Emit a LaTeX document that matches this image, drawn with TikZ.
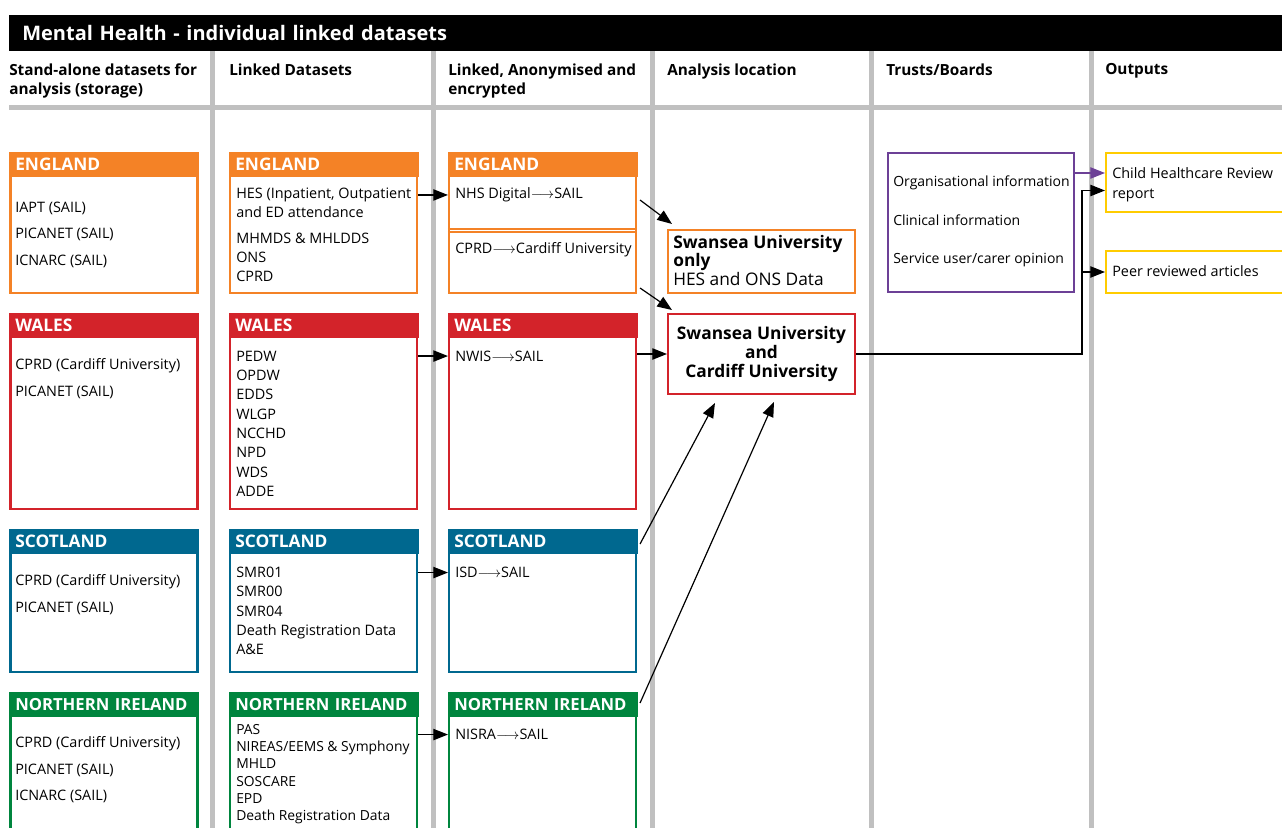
\documentclass[tikz,border=0pt]{standalone}
\usepackage{fontspec}
\setmainfont{Open Sans}
\usetikzlibrary{arrows.meta,positioning,calc}
\definecolor{engorange}{RGB}{244,130,38}
\definecolor{walred}{RGB}{211,35,42}
\definecolor{scoblue}{RGB}{0,104,143}
\definecolor{nigreen}{RGB}{0,133,62}
\definecolor{trustpurple}{RGB}{108,64,150}
\definecolor{outyellow}{RGB}{255,204,0}
\definecolor{sepgray}{RGB}{192,192,192}
\newcommand{\lto}{\ensuremath{\mathord{\longrightarrow}}}

\begin{document}
\begin{tikzpicture}[
  x=0.75pt, y=-0.75pt,
  >={Triangle[length=11pt,width=8.5pt]},
  box/.style={draw=#1, line width=1.8pt, minimum width=140pt, inner sep=0pt},
  bandhead/.style={fill=#1, minimum width=142.5pt, minimum height=18.75pt, text width=133.5pt, inner xsep=4.5pt, inner ysep=0pt, align=left, anchor=north west, text=white, font=\fontsize{13}{15}\selectfont\bfseries},
  item/.style={anchor=north west, inner sep=0pt, align=left, font=\fontsize{10.8}{#1}\selectfont},
  item/.default=14.5,
  colhead/.style={anchor=north west, inner sep=0pt, align=left, font=\fontsize{11.5}{14}\selectfont\bfseries},
  divider/.style={draw=sepgray, line width=3.75pt},
  link/.style={->, line width=0.9pt}
]
  \useasboundingbox (0,0) rectangle (1282,828);
  \clip (0,0) rectangle (1282,828);

  % Grid
  \draw[divider] (212.5,51) -- (212.5,828);
  \draw[divider] (433,51) -- (433,828);
  \draw[divider] (652.5,51) -- (652.5,828);
  \draw[divider] (871.5,51) -- (871.5,828);
  \draw[divider] (1091,51) -- (1091,828);
  \draw[divider] (9,107.5) -- (1282,107.5);

  % Title and column heads
  \node[fill=black, text=white, anchor=north west, minimum width=954.75pt, minimum height=27pt, text width=935.25pt, inner xsep=9.75pt, inner ysep=0pt, align=left, font=\fontsize{15}{18}\selectfont\bfseries] (title) at (9,15) {Mental Health - individual linked datasets};
  \node[colhead] (hstand) at (9,63.5) {Stand-alone datasets for\\analysis (storage)};
  \node[colhead] (hlinked) at (229,63.5) {Linked Datasets};
  \node[colhead] (hanon) at (448,63.5) {Linked, Anonymised and\\encrypted};
  \node[colhead] (hloc) at (667,63.5) {Analysis location};
  \node[colhead] (htrust) at (886,63.5) {Trusts/Boards};
  \node[colhead] (hout) at (1105,63.5) {Outputs};

  % England
  \node[box=engorange, minimum height=104.7pt] (engS) at (104,223) {};
  \node[box=engorange, minimum height=104.7pt] (engL) at (323.5,223) {};
  \node[box=engorange, minimum height=104.7pt] (engA) at (542.5,223) {};
  \node[bandhead=engorange] (engShead) at (9,152) {ENGLAND};
  \node[bandhead=engorange] (engLhead) at (229,152) {ENGLAND};
  \node[bandhead=engorange] (engAhead) at (448,152) {ENGLAND};
  \draw[engorange, line width=1.5pt] ($(engA.west)+(0,6.3)$) -- ($(engA.east)+(0,6.3)$);
  \draw[engorange, line width=1.5pt] ($(engA.west)+(0,9.3)$) -- ($(engA.east)+(0,9.3)$);
  \node[item=19.9] (engStxt) at (15,201.5) {IAPT (SAIL)\\PICANET (SAIL)\\ICNARC (SAIL)};
  \node[item] (engLtxt) at (236,187.5) {HES (Inpatient, Outpatient\\and ED attendance\\[4.5pt]MHMDS \& MHLDDS\\ONS\\CPRD};
  \node[item] (engAnhs) at (455,187.5) {NHS Digital\lto SAIL};
  \node[item] (engAcprd) at (455,242.5) {CPRD\lto Cardiff University};

  % Wales
  \node[box=walred, minimum height=146pt] (walS) at (104,411.5) {};
  \node[box=walred, minimum height=146pt] (walL) at (323.5,411.5) {};
  \node[box=walred, minimum height=146pt] (walA) at (542.5,411.5) {};
  \node[bandhead=walred] (walShead) at (9,313) {WALES};
  \node[bandhead=walred] (walLhead) at (229,313) {WALES};
  \node[bandhead=walred] (walAhead) at (448,313) {WALES};
  \node[item=19.9] (walStxt) at (15,358.5) {CPRD (Cardiff University)\\PICANET (SAIL)};
  \node[item] (walLtxt) at (236,350.5) {PEDW\\OPDW\\EDDS\\WLGP\\NCCHD\\NPD\\WDS\\ADDE};
  \node[item] (walAnwis) at (455,350.5) {NWIS\lto SAIL};

  % Scotland
  \node[box=scoblue, minimum height=106.2pt] (scoS) at (104,601) {};
  \node[box=scoblue, minimum height=106.2pt] (scoL) at (323.5,601) {};
  \node[box=scoblue, minimum height=106.2pt] (scoA) at (542.5,601) {};
  \node[bandhead=scoblue] (scoShead) at (9,529) {SCOTLAND};
  \node[bandhead=scoblue] (scoLhead) at (229,529) {SCOTLAND};
  \node[bandhead=scoblue] (scoAhead) at (448,529) {SCOTLAND};
  \node[item=20] (scoStxt) at (15,574.5) {CPRD (Cardiff University)\\PICANET (SAIL)};
  \node[item=14.4] (scoLtxt) at (236,567) {SMR01\\SMR00\\SMR04\\Death Registration Data\\A\&E};
  \node[item] (scoAisd) at (455,567) {ISD\lto SAIL};

  % Northern Ireland
  \node[box=nigreen, minimum height=116.7pt] (niS) at (104,771) {};
  \node[box=nigreen, minimum height=116.7pt] (niL) at (323.5,771) {};
  \node[box=nigreen, minimum height=116.7pt] (niA) at (542.5,771) {};
  \node[bandhead=nigreen, font=\fontsize{12.5}{15}\selectfont\bfseries] (niShead) at (9,692) {NORTHERN IRELAND};
  \node[bandhead=nigreen, font=\fontsize{12.5}{15}\selectfont\bfseries] (niLhead) at (229,692) {NORTHERN IRELAND};
  \node[bandhead=nigreen, font=\fontsize{12.5}{15}\selectfont\bfseries] (niAhead) at (448,692) {NORTHERN IRELAND};
  \node[item=19.9] (niStxt) at (15,736.5) {CPRD (Cardiff University)\\PICANET (SAIL)\\ICNARC (SAIL)};
  \node[item=13, font=\fontsize{10.4}{13}\selectfont] (niLtxt) at (236,724) {PAS\\NIREAS/EEMS \& Symphony\\MHLD\\SOSCARE\\EPD\\Death Registration Data};
  \node[item] (niAnisra) at (455,729) {NISRA\lto SAIL};

  % Analysis location
  \node[box=engorange, minimum height=47pt] (swo) at (761.5,261.5) {};
  \node[item=13.9, font=\fontsize{13}{13.9}\selectfont] (swotxt) at (673,235) {\textbf{Swansea University}\\\textbf{only}\\HES and ONS Data};
  \node[box=walred, minimum height=59.7pt, align=center, font=\fontsize{13}{14.25}\selectfont\bfseries] (sc) at (761.5,354) {Swansea University\\and\\Cardiff University};

  % Trusts and outputs
  \node[box=trustpurple, minimum width=139.2pt, minimum height=104pt] (trust) at (981,222.5) {};
  \node[item=28.9, font=\fontsize{10.5}{28.9}\selectfont] (trusttxt) at (893,175.5) {Organisational information\\Clinical information\\Service user/carer opinion};
  \node[box=outyellow, minimum width=141.5pt, minimum height=44pt] (child) at (1200.5,182.5) {};
  \node[item=15] (childtxt) at (1112,167.5) {Child Healthcare Review\\report};
  \node[box=outyellow, minimum width=141.5pt, minimum height=31.2pt] (peer) at (1200.5,272) {};
  \node[item] (peertxt) at (1112,265.5) {Peer reviewed articles};
  \coordinate (bus) at ($(trust.east)+(7,0)$);

  % Flows
  \draw[link] (engL.east |- engAnhs.west) -- (engA.west |- engAnhs.west);
  \draw[link] (walL.east |- walAnwis.west) -- (walA.west |- walAnwis.west);
  \draw[link] (scoL.east |- scoAisd.west) -- (scoA.west |- scoAisd.west);
  \draw[link] (niL.east |- niAnisra.west) -- (niA.west |- niAnisra.west);
  \draw[link] ($(engA.north east)+(3,48)$) -- ($(swo.north west)+(5,-5)$);
  \draw[link] ($(engA.south east)+(3,-6)$) -- ($(sc.north west)+(5,-3)$);
  \draw[link] (walA.east |- sc.west) -- (sc.west);
  \draw[link] ($(scoA.north east)+(3,15)$) -- ($(sc.south west)+(48,8)$);
  \draw[link] ($(niA.north east)+(3,11)$) -- ($(sc.south west)+(107,7)$);
  \draw[link] (sc.east) -- (sc.east -| bus) |- ($(child.west)+(0,8)$);
  \draw[link] (sc.east -| bus) |- (peer.west);
  \draw[link, trustpurple] ($(trust.east)+(0,-49.5)$) -- ($(child.west)+(0,-9.5)$);
\end{tikzpicture}
\end{document}
